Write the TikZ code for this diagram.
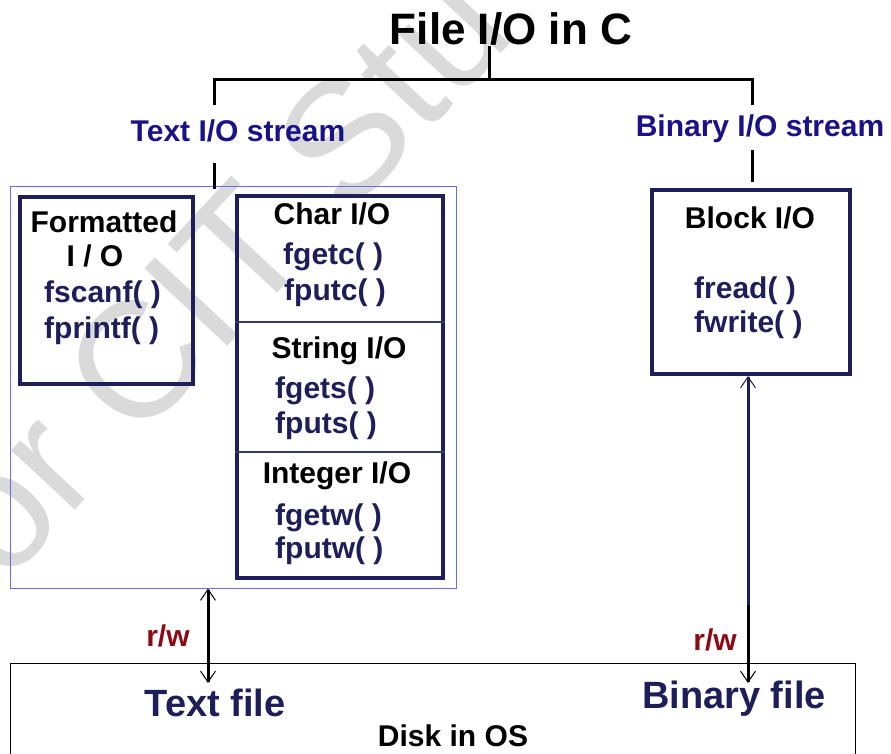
\documentclass[tikz,border=0pt]{standalone}
\usepackage{fontspec}
\setmainfont{Liberation Sans}
\usetikzlibrary{arrows.meta}

\definecolor{navy}{HTML}{1E1E5A}
\definecolor{streamblue}{HTML}{1A1288}
\definecolor{groupblue}{HTML}{6A6AF0}
\definecolor{divider}{HTML}{3A3A66}
\definecolor{rwred}{HTML}{8B0A14}
\definecolor{markgray}{HTML}{DADADA}

\newcommand\fsz[1]{\fontsize{#1}{#1}\selectfont}

\begin{document}
\begin{tikzpicture}[x=1pt,y=-1pt,
  lbl/.style={inner sep=0pt, anchor=base, font=\bfseries\fsz{30}},
  fn/.style={inner sep=0pt, anchor=base west, font=\bfseries\fsz{30}, text=navy},
  stream/.style={inner sep=0pt, anchor=base, font=\bfseries\fsz{30}, text=streamblue},
  filelbl/.style={inner sep=0pt, anchor=base, font=\bfseries\fsz{38}, text=navy},
  rw/.style={inner sep=0pt, anchor=base, font=\bfseries\fsz{30}, text=rwred},
  iobox/.style={draw=navy, line width=4pt, inner sep=0pt},
  conn/.style={line width=3pt, black},
  divline/.style={line width=1.3pt, divider},
  barb/.tip={Straight Barb[length=11pt,width=15pt,line width=1pt]},
]
\useasboundingbox (0,0) rectangle (891,754);

% faint watermark behind everything
\begin{scope}
  \clip (0,0) rectangle (891,754);
  \node[rotate=47, text=markgray, font=\fsz{165}, inner sep=0pt] (mark) at (220,272) {or CIT Stu};
\end{scope}

% title and top level split
\node[lbl, font=\bfseries\fsz{44}] (title) at (511,45) {File I/O in C};
\coordinate (hub) at (489,80);
\coordinate (lcorner) at (214,80);
\coordinate (rcorner) at (752,80);
\coordinate (ldrop) at (214,105);
\coordinate (rdrop) at (752,105);
\draw[conn] (title.south -| hub) -- (hub);
\draw[conn] (ldrop) -- (lcorner) -- (rcorner) -- (rdrop);

% stream labels
\node[stream] (txtstream) at (238,142) {Text I/O stream};
\node[stream] (binstream) at (760,137) {Binary I/O stream};

% text stream group
\node[draw=groupblue, line width=1pt, minimum width=446, minimum height=401, inner sep=0pt] (textgrp) at (233,387.5) {};
\coordinate (ltop) at (214,163);
\draw[conn] (ltop) -- (textgrp.north -| ltop) -- ++(0,3);

% formatted I/O
\node[iobox, minimum width=173, minimum height=187] (fmt) at (106.5,290.5) {};
\node[lbl] (fmttitle) at (104,233) {Formatted};
\node[lbl] (fmtio) at (95,266) {I / O};
\node[fn] (fscanf) at (44,302) {fscanf( )};
\node[fn] (fprintf) at (44,338) {fprintf( )};

% char / string / integer I/O
\node[iobox, minimum width=206, minimum height=382] (chr) at (340,387) {};
\coordinate (div1) at (0,322);
\coordinate (div2) at (0,452);
\draw[divline] (chr.west |- div1) -- (chr.east |- div1);
\draw[divline] (chr.west |- div2) -- (chr.east |- div2);
\node[lbl] (chartitle) at (332,225) {Char I/O};
\node[fn] (fgetc) at (283,264) {fgetc( )};
\node[fn] (fputc) at (284,300) {fputc( )};
\node[lbl] (strtitle) at (339,358) {String I/O};
\node[fn] (fgets) at (275,398) {fgets( )};
\node[fn] (fputs) at (275,433) {fputs( )};
\node[lbl] (inttitle) at (337,483) {Integer I/O};
\node[fn] (fgetw) at (275,525) {fgetw( )};
\node[fn] (fputw) at (275,558) {fputw( )};

% block I/O
\node[iobox, minimum width=198, minimum height=184] (blk) at (751,282) {};
\coordinate (rtop) at (752,150);
\coordinate (rbot) at (752,182);
\draw[conn] (rtop) -- (rbot);
\node[lbl] (blktitle) at (750,228) {Block I/O};
\node[fn] (fread) at (694,298) {fread( )};
\node[fn] (fwrite) at (694,332) {fwrite( )};

% disk
\begin{scope}
  \clip (0,0) rectangle (891,754);
  \node[draw=black, line width=1pt, minimum width=845, minimum height=110, inner sep=0pt] (disk) at (432.5,718) {};
\end{scope}
\node[filelbl] (txtfile) at (215,716) {Text file};
\node[filelbl] (binfile) at (734,708) {Binary file};
\node[lbl] (diskos) at (453,746) {Disk in OS};

% read/write links
\coordinate (lend) at (208,683);
\coordinate (rmid) at (748,605);
\coordinate (rend) at (748,683);
\draw[conn, {barb}-{barb}] (textgrp.south -| lend) -- (lend);
\draw[line width=3pt, navy, {barb}-] (blk.south -| rmid) -- (rmid);
\draw[conn, -{barb}] (rmid) -- (rend);
\node[rw] (rwl) at (168,646) {r/w};
\node[rw] (rwr) at (715,650) {r/w};
\end{tikzpicture}
\end{document}
